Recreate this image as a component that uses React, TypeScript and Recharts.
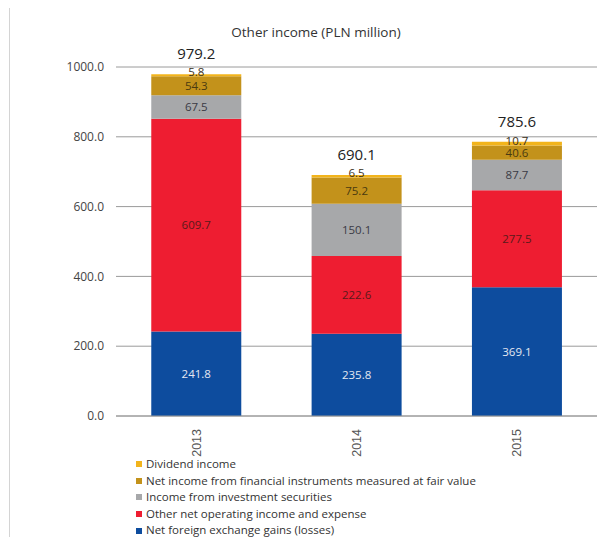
import React from 'react';
import { BarChart, Bar, XAxis, YAxis, CartesianGrid, LabelList, Legend, Text } from 'recharts';

const years = ['2013', '2014', '2015'];
const fxGains = [241.8, 235.8, 369.1];
const otherOperating = [609.7, 222.6, 277.5];
const investmentSecurities = [67.5, 150.1, 87.7];
const fairValueInstruments = [54.3, 75.2, 40.6];
const dividendIncome = [5.8, 6.5, 10.7];
const totals = [979.2, 690.1, 785.6];
const yTicks = [0, 200, 400, 600, 800, 1000];

const data = years.map((year, i) => ({
  year,
  fx: fxGains[i],
  other: otherOperating[i],
  securities: investmentSecurities[i],
  fair: fairValueInstruments[i],
  dividend: dividendIncome[i],
  total: totals[i],
}));

const series = [
  { key: 'fx', name: 'Net foreign exchange gains (losses)', color: '#0d4c9e', label: '#e4e8f2' },
  { key: 'other', name: 'Other net operating income and expense', color: '#ee1d31', label: '#5a1a1a' },
  { key: 'securities', name: 'Income from investment securities', color: '#a7a8aa', label: '#3a3a44' },
  { key: 'fair', name: 'Net income from financial instruments measured at fair value', color: '#c3921b', label: '#4a3a10' },
  { key: 'dividend', name: 'Dividend income', color: '#f2b41c', label: '#3a3020' },
];

const FONT = '"Open Sans", "DejaVu Sans", sans-serif';

const YearTick = (props: any) => {
  const { x, y, payload } = props;
  return (
    <Text x={x} y={y + 5} angle={-90} textAnchor="end" verticalAnchor="middle" fill="#555" fontSize={12.5} fontFamily='"Liberation Sans", sans-serif'>
      {payload.value}
    </Text>
  );
};

const LegendBox = () => (
  <div style={{ fontFamily: FONT, fontSize: 11.5, color: '#333', lineHeight: '16.6px' }}>
    {[...series].reverse().map((s) => (
      <div key={s.key} style={{ display: 'flex', alignItems: 'center', whiteSpace: 'nowrap' }}>
        <span style={{ width: 6, height: 6, background: s.color, marginRight: 4, display: 'inline-block' }} />
        {s.name}
      </div>
    ))}
  </div>
);

export default function App() {
  return (
    <div style={{ position: 'relative', width: 597, height: 529, borderLeft: '1px solid #d4d4d4', marginLeft: 1 }}>
      <div style={{ position: 'absolute', top: 15, left: 0, width: 612, textAlign: 'center', fontFamily: FONT, fontSize: 13.5, color: '#333' }}>
        Other income (PLN million)
      </div>
      <BarChart
        width={587}
        height={529}
        data={data}
        margin={{ top: 59, right: 0, bottom: 0, left: 0 }}
        barCategoryGap="22%"
      >
        <CartesianGrid vertical={false} stroke="#9a9a9a" />
        <XAxis
          dataKey="year"
          height={40}
          tickLine={false}
          axisLine={{ stroke: '#9a9a9a' }}
          tick={<YearTick />}
          interval={0}
        />
        <YAxis
          width={106}
          domain={[0, 1000]}
          ticks={yTicks}
          tickFormatter={(v: number) => v.toFixed(1)}
          tickLine={false}
          axisLine={false}
          tickSize={0}
          tickMargin={12}
          tick={{ fill: '#444', fontSize: 12, fontFamily: FONT }}
        />
        <Legend
          layout="vertical"
          verticalAlign="bottom"
          align="center"
          content={<LegendBox />}
          wrapperStyle={{ left: 126, width: 400, height: 81, bottom: 0 }}
        />
        {series.map((s) => (
          <Bar key={s.key} dataKey={s.key} name={s.name} stackId="a" fill={s.color} isAnimationActive={false}>
            <LabelList
              dataKey={s.key}
              position="center"
              formatter={(v: number) => v.toFixed(1)}
              fill={s.label}
              fontSize={11.5}
              fontFamily={FONT}
              dy={s.key === 'dividend' ? -3 : 0}
            />
            {s.key === 'dividend' && (
              <LabelList
                dataKey="total"
                position="top"
                offset={15}
                formatter={(v: number) => v.toFixed(1)}
                fill="#222"
                fontSize={15}
                fontFamily={FONT}
              />
            )}
          </Bar>
        ))}
      </BarChart>
    </div>
  );
}
